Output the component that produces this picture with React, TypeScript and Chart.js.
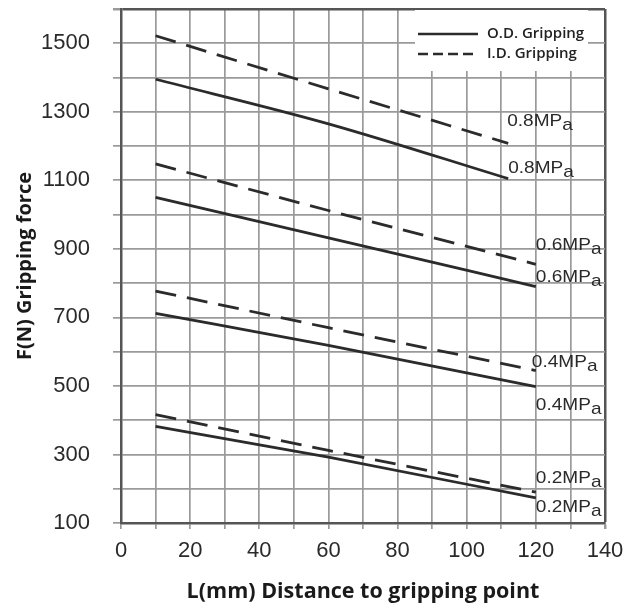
import { useEffect, useRef } from 'react';
import { Chart, registerables } from 'chart.js';

Chart.register(...registerables);

// ---- data ----
const xTickLabels = ['0', '20', '40', '60', '80', '100', '120', '140'];
const yTickLabels = ['100', '300', '500', '700', '900', '1100', '1300', '1500'];
const pressureLabels = ['0.8MPa', '0.6MPa', '0.4MPa', '0.2MPa'];
const legendLabels = ['O.D. Gripping', 'I.D. Gripping'];

const odDistance08 = [10, 60, 112];
const odForce08 = [1395, 1265, 1105];
const idDistance08 = [10, 60, 112];
const idForce08 = [1522, 1367, 1208];

const odDistance06 = [10, 60, 120];
const odForce06 = [1050, 932, 790];
const idDistance06 = [10, 60, 120];
const idForce06 = [1148, 1012, 855];

const odDistance04 = [10, 60, 120];
const odForce04 = [712, 618, 498];
const idDistance04 = [10, 60, 120];
const idForce04 = [777, 670, 545];

const odDistance02 = [10, 60, 120];
const odForce02 = [382, 292, 173];
const idDistance02 = [10, 60, 120];
const idForce02 = [416, 312, 190];

// ---- styles ----
const LINE_COLOR = '#2b2b2b';
const GRID_COLOR = '#9a9a9a';
const BORDER_COLOR = '#555555';
const TICK_FONT = '"Liberation Sans", Arial, sans-serif';
const TITLE_FONT = '"Open Sans", "Noto Sans", sans-serif';
const DASH = [21, 11];

// label offsets (pixels) relative to the end of each line
const odLabelDy = [-9, -8, 20, 10];
const idLabelDy = [-21, -18, -7, -13];
const idLabelDx = [-1, 0, -4, 0];

function pts(xs: number[], ys: number[]) {
  return xs.map((x, i) => ({ x, y: ys[i] }));
}

const series = [
  { kind: 'OD', p: 0, xs: odDistance08, ys: odForce08 },
  { kind: 'ID', p: 0, xs: idDistance08, ys: idForce08 },
  { kind: 'OD', p: 1, xs: odDistance06, ys: odForce06 },
  { kind: 'ID', p: 1, xs: idDistance06, ys: idForce06 },
  { kind: 'OD', p: 2, xs: odDistance04, ys: odForce04 },
  { kind: 'ID', p: 2, xs: idDistance04, ys: idForce04 },
  { kind: 'OD', p: 3, xs: odDistance02, ys: odForce02 },
  { kind: 'ID', p: 3, xs: idDistance02, ys: idForce02 },
];

const labelPlugin = {
  id: 'pressureLabels',
  afterDatasetsDraw(chart: any) {
    const ctx = chart.ctx;
    ctx.save();
    ctx.fillStyle = '#2a2a2a';
    ctx.textBaseline = 'middle';
    ctx.textAlign = 'left';
    series.forEach((s, i) => {
      const meta = chart.getDatasetMeta(i);
      const last = meta.data[meta.data.length - 1];
      if (!last) return;
      const dy = s.kind === 'OD' ? odLabelDy[s.p] : idLabelDy[s.p];
      const dx = s.kind === 'OD' ? 0 : idLabelDx[s.p];
      const txt = pressureLabels[s.p];
      const main = txt.slice(0, -1);
      const sub = txt.slice(-1);
      ctx.save();
      ctx.translate(last.x + dx, last.y + dy);
      ctx.scale(1.12, 1);
      ctx.font = `17px ${TICK_FONT}`;
      ctx.fillText(main, 0, -1);
      const w = ctx.measureText(main).width;
      ctx.fillText(sub, w, 3);
      ctx.restore();
    });
    ctx.restore();
  },
};

const legendPlugin = {
  id: 'customLegend',
  afterDatasetsDraw(chart: any) {
    const { ctx, chartArea } = chart;
    const right = chartArea.right - 17;
    const left = right - 173;
    const top = chartArea.top + 1;
    ctx.save();
    ctx.fillStyle = '#fff';
    ctx.fillRect(left, top, right - left, 61);
    ctx.strokeStyle = LINE_COLOR;
    ctx.lineWidth = 2.5;
    ctx.beginPath();
    ctx.moveTo(left + 3, top + 24);
    ctx.lineTo(left + 63, top + 24);
    ctx.stroke();
    ctx.setLineDash([10, 5]);
    ctx.beginPath();
    ctx.moveTo(left + 3, top + 44);
    ctx.lineTo(left + 63, top + 44);
    ctx.stroke();
    ctx.setLineDash([]);
    ctx.fillStyle = '#222';
    ctx.font = `600 15px ${TITLE_FONT}`;
    ctx.textBaseline = 'middle';
    ctx.fillText(legendLabels[0], left + 72, top + 24);
    ctx.fillText(legendLabels[1], left + 72, top + 44);
    ctx.restore();
  },
};

export default function App() {
  const ref = useRef<HTMLCanvasElement | null>(null);

  useEffect(() => {
    if (!ref.current) return;
    const chart = new Chart(ref.current, {
      type: 'line',
      data: {
        datasets: series.map((s) => ({
          label: `${s.kind} ${pressureLabels[s.p]}`,
          data: pts(s.xs, s.ys),
          borderColor: LINE_COLOR,
          borderWidth: 2.8,
          borderDash: s.kind === 'ID' ? DASH : [],
          pointRadius: 0,
          fill: false,
          cubicInterpolationMode: 'monotone',
        })),
      },
      options: {
        responsive: false,
        animation: false,
        layout: { padding: { top: 9, right: 32, left: 0, bottom: 0 } },
        plugins: {
          legend: { display: false },
          tooltip: { enabled: false },
        },
        scales: {
          x: {
            type: 'linear',
            min: 0,
            max: 140,
            afterFit: (scale: any) => {
              scale.height = 87;
              scale.paddingLeft = 0;
              scale.paddingRight = 0;
            },
            ticks: {
              stepSize: 10,
              autoSkip: false,
              maxRotation: 0,
              padding: 9,
              color: '#2a2a2a',
              font: { family: TICK_FONT, size: 22 },
              callback: (v: any) => (xTickLabels.includes(String(v)) ? String(v) : ''),
            },
            grid: {
              color: (c: any) => (c.tick && (c.tick.value === 140 || c.tick.value === 0) ? BORDER_COLOR : GRID_COLOR),
              lineWidth: (c: any) => (c.tick && c.tick.value === 140 ? 2.5 : 1.7),
              tickLength: 6,
              tickColor: GRID_COLOR,
            },
            border: { color: BORDER_COLOR, width: 2.5 },
            title: {
              display: true,
              text: 'L(mm) Distance to gripping point',
              color: '#1a1a1a',
              font: { family: TITLE_FONT, size: 21.5, weight: 'bold' },
              padding: { top: 0, bottom: 5 },
            },
          },
          y: {
            type: 'linear',
            min: 100,
            max: 1600,
            afterFit: (scale: any) => {
              scale.width = 121;
              scale.paddingTop = 0;
              scale.paddingBottom = 0;
            },
            ticks: {
              stepSize: 100,
              autoSkip: false,
              padding: 23,
              color: '#2a2a2a',
              font: { family: TICK_FONT, size: 22 },
              callback: (v: any) => (yTickLabels.includes(String(v)) ? String(v) : ''),
            },
            grid: {
              color: (c: any) => (c.tick && (c.tick.value === 1600 || c.tick.value === 100) ? BORDER_COLOR : GRID_COLOR),
              lineWidth: (c: any) => (c.tick && c.tick.value === 1600 ? 2.5 : 1.7),
              tickLength: 8,
              tickColor: GRID_COLOR,
            },
            border: { color: BORDER_COLOR, width: 2.5 },
            title: {
              display: true,
              text: 'F(N) Gripping force',
              color: '#1a1a1a',
              font: { family: TITLE_FONT, size: 20, weight: 'bold' },
              padding: { top: 13, bottom: 0 },
            },
          },
        },
      },
      plugins: [labelPlugin, legendPlugin],
    } as any);
    return () => chart.destroy();
  }, []);

  return (
    <div style={{ position: 'absolute', left: 0, top: 0, width: 637, height: 610, background: '#fff' }}>
      <canvas ref={ref} width={637} height={610} style={{ display: 'block' }} />
    </div>
  );
}
